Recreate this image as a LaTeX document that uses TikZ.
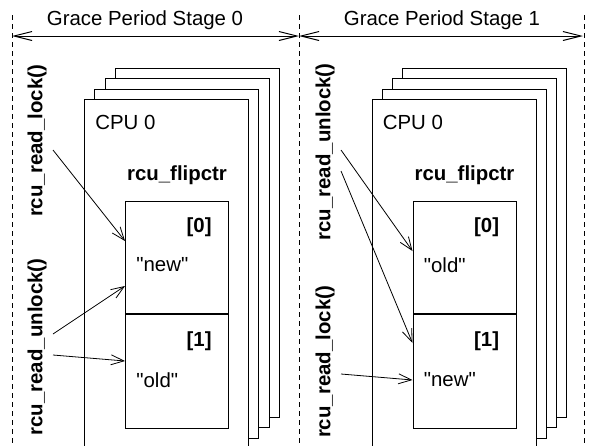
\documentclass[tikz,border=0pt]{standalone}
\usepackage{fontspec}
\setmainfont{Liberation Sans}[Ligatures=TeXOff]
\usetikzlibrary{arrows.meta, positioning, calc}
\tikzset{
  lbl/.style={font=\fontsize{10.2}{12}\selectfont, inner sep=0pt},
  boldlbl/.style={font=\fontsize{10.2}{12}\selectfont\bfseries, inner sep=0pt},
  fnlbl/.style={boldlbl, rotate=90},
  cpubox/.style={draw, fill=white, line width=0.5pt, inner sep=0pt, minimum width=82pt, minimum height=174.5pt, anchor=north west},
  cell/.style={draw, line width=0.5pt, inner sep=0pt, minimum width=51.5pt},
  ptr/.style={-{Straight Barb[length=6.5pt, width=5pt]}, line width=0.4pt},
  stagespan/.style={{Straight Barb[length=9pt, width=4.5pt]}-{Straight Barb[length=9pt, width=4.5pt]}, line width=0.5pt},
  stageedge/.style={dash pattern=on 2.5pt off 2pt, line width=0.5pt},
}
\begin{document}
\begin{tikzpicture}[x=0.5pt, y=-0.5pt]
  \useasboundingbox (0,0) rectangle (589,445);
  % stage borders and spans
  \foreach \n/\x in {a/12, b/299, c/584} {
    \coordinate (top\n) at (\x,15);
    \coordinate (bot\n) at (\x,448);
    \coordinate (mid\n) at (\x,36);
    \draw[stageedge] (top\n) -- (bot\n);
  }
  \draw[stagespan] (mida) -- (midb);
  \draw[stagespan] (midb) -- ([xshift=-0.5pt]midc);
  \node[lbl] (stage0) at (145,20) {Grace Period Stage 0};
  \node[lbl] (stage1) at (442,20) {Grace Period Stage 1};
  % one CPU stack per stage
  \foreach \s/\ox in {A/0, B/287.5} {
    \foreach \k in {3,2,1,0}
      \node[cpubox] (cpu\s\k) at (84+\ox+10.33*\k, 99-10.33*\k) {};
    \node[lbl, anchor=west] (cpulbl\s) at (95+\ox,122) {CPU 0};
    \node[boldlbl] (flip\s) at (177+\ox,175) {rcu\_flipctr};
    \node[cell, minimum height=56pt, anchor=north west] (cell\s0) at (125+\ox,201) {};
    \node[cell, minimum height=57pt, below=0pt of cell\s0] (cell\s1) {};
    \node[boldlbl, anchor=east] (idx\s0) at ($(cell\s0.north east)+(-17,26)$) {[0]};
    \node[boldlbl, anchor=east] (idx\s1) at ($(cell\s1.north east)+(-17,27)$) {[1]};
  }
  \node[lbl, anchor=west] (valA0) at ($(cellA0.north west)+(11,64)$) {"new"};
  \node[lbl, anchor=west] (valA1) at ($(cellA1.north west)+(11,66)$) {"old"};
  \node[lbl, anchor=west] (valB0) at ($(cellB0.north west)+(11,64)$) {"old"};
  \node[lbl, anchor=west] (valB1) at ($(cellB1.north west)+(11,66)$) {"new"};
  % readers
  \node[fnlbl] (lockA) at (37,141) {rcu\_read\_lock()};
  \node[fnlbl] (unlockA) at (37,347) {rcu\_read\_unlock()};
  \node[fnlbl] (unlockB) at (325,152) {rcu\_read\_unlock()};
  \node[fnlbl] (lockB) at (325,362) {rcu\_read\_lock()};
  \coordinate (lockA1) at (53,150);
  \coordinate (unlockA1) at (53,334);
  \coordinate (unlockA2) at (53,355);
  \coordinate (unlockB1) at (341,150);
  \coordinate (unlockB2) at (341,171);
  \coordinate (lockB1) at (341,374);
  \draw[ptr] (lockA1) -- ($(cellA0.north west)+(0,40)$);
  \draw[ptr] (unlockA1) -- ($(cellA0.south west)+(0,-28)$);
  \draw[ptr] (unlockA2) -- ($(cellA1.north west)+(0,47)$);
  \draw[ptr] (unlockB1) -- ($(cellB0.north west)+(0,50)$);
  \draw[ptr] (unlockB2) -- ($(cellB1.north west)+(0,29)$);
  \draw[ptr] (lockB1) -- ($(cellB1.north west)+(0,66)$);
\end{tikzpicture}
\end{document}
